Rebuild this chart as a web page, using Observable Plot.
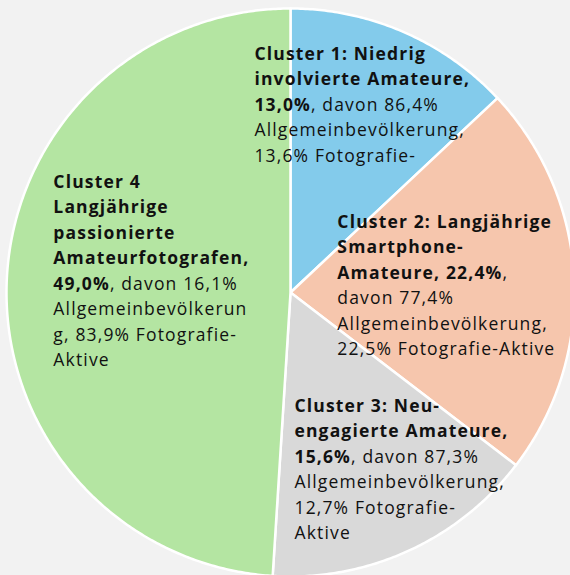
<!DOCTYPE html>
<html><head><meta charset="utf-8">
<script src="https://cdn.jsdelivr.net/npm/d3@7"></script>
<script src="https://cdn.jsdelivr.net/npm/@observablehq/plot@0.6"></script>
<style>
html,body{margin:0;padding:0;background:#f2f2f2;}
#chart svg{display:block;}
#chart text{letter-spacing:1.15px;}
</style></head><body><div id="chart"></div>
<script>
// ---- data ----
const clusters = ["Cluster 1", "Cluster 2", "Cluster 3", "Cluster 4"];
const shares = [13.0, 22.4, 15.6, 49.0];          // % of respondents
const allgemein = [86.4, 77.4, 87.3, 16.1];       // % Allgemeinbevölkerung
const fotoAktive = [13.6, 22.5, 12.7, 83.9];      // % Fotografie-Aktive

// ---- style / layout (not data) ----
const colors = ["#83cbeb", "#f6c6ad", "#d9d9d9", "#b4e5a2"];
const labelAnchor = [[-0.127, 0.884], [0.165, 0.292], [0.014, -0.356], [-0.835, 0.433]];
const FONT = "'Open Sans', sans-serif";
const FS = 17.5;

const pct = v => v.toFixed(1).replace(".", ",") + "%";
const labelLines = [
  [`**${clusters[0]}: Niedrig**`, "**involvierte Amateure,**", `**${pct(shares[0])}**, davon ${pct(allgemein[0])}`, "Allgemeinbevölkerung,", `${pct(fotoAktive[0])} Fotografie-`],
  [`**${clusters[1]}: Langjährige**`, "**Smartphone-**", `**Amateure, ${pct(shares[1])}**,`, `davon ${pct(allgemein[1])}`, "Allgemeinbevölkerung,", `${pct(fotoAktive[1])} Fotografie-Aktive`],
  [`**${clusters[2]}: Neu-**`, "**engagierte Amateure,**", `**${pct(shares[2])}**, davon ${pct(allgemein[2])}`, "Allgemeinbevölkerung,", `${pct(fotoAktive[2])} Fotografie-`, "Aktive"],
  [`**${clusters[3]}**`, "**Langjährige**", "**passionierte**", "**Amateurfotografen,**", `**${pct(shares[3])}**, davon ${pct(allgemein[3])}`, "Allgemeinbevölkerun", `g, ${pct(fotoAktive[3])} Fotografie-`, "Aktive"]
];

// ---- pie geometry via d3.pie ----
const table = clusters.map((c, i) => ({cluster: c, share: shares[i]}));
const arcs = d3.pie().sort(null).value(d => d.share)(table);
const slicePts = [];
arcs.forEach(a => {
  const c = a.data.cluster;
  slicePts.push({cluster: c, x: 0, y: 0});
  const n = Math.max(2, Math.ceil((a.endAngle - a.startAngle) / (Math.PI / 360)));
  for (let k = 0; k <= n; k++) {
    const t = a.startAngle + (a.endAngle - a.startAngle) * k / n;
    slicePts.push({cluster: c, x: Math.sin(t), y: Math.cos(t)});
  }
  slicePts.push({cluster: c, x: 0, y: 0});
});

const labels = clusters.map((c, i) => ({cluster: c, x: labelAnchor[i][0], y: labelAnchor[i][1], text: labelLines[i].join("\n")}));

const R = 284, W = 570, H = 575, CX = 290, CY = 292;
const plot = Plot.plot({
  width: W, height: H, margin: 0,
  x: {domain: [-CX / R, (W - CX) / R], axis: null},
  y: {domain: [-(H - CY) / R, CY / R], axis: null},
  color: {domain: clusters, range: colors},
  style: {background: "#f2f2f2", fontFamily: FONT},
  marks: [
    Plot.line(slicePts, {x: "x", y: "y", z: "cluster", fill: "cluster", stroke: "white", strokeWidth: 2.5, strokeLinejoin: "round", curve: "linear"}),
    Plot.text(labels, {x: "x", y: "y", text: "text", textAnchor: "start", lineAnchor: "top", lineHeight: 25.5 / FS, fontSize: FS, fill: "#111", fontFamily: FONT})
  ]
});

// mixed bold / regular runs within lines
plot.querySelectorAll("tspan").forEach(ts => {
  const s = ts.textContent;
  if (!s.includes("**")) return;
  ts.textContent = "";
  s.split("**").forEach((part, j) => {
    if (!part) return;
    const t = document.createElementNS("http://www.w3.org/2000/svg", "tspan");
    t.textContent = part;
    t.setAttribute("font-weight", j % 2 ? "bold" : "normal");
    ts.appendChild(t);
  });
});
document.getElementById("chart").appendChild(plot);
</script></body></html>
